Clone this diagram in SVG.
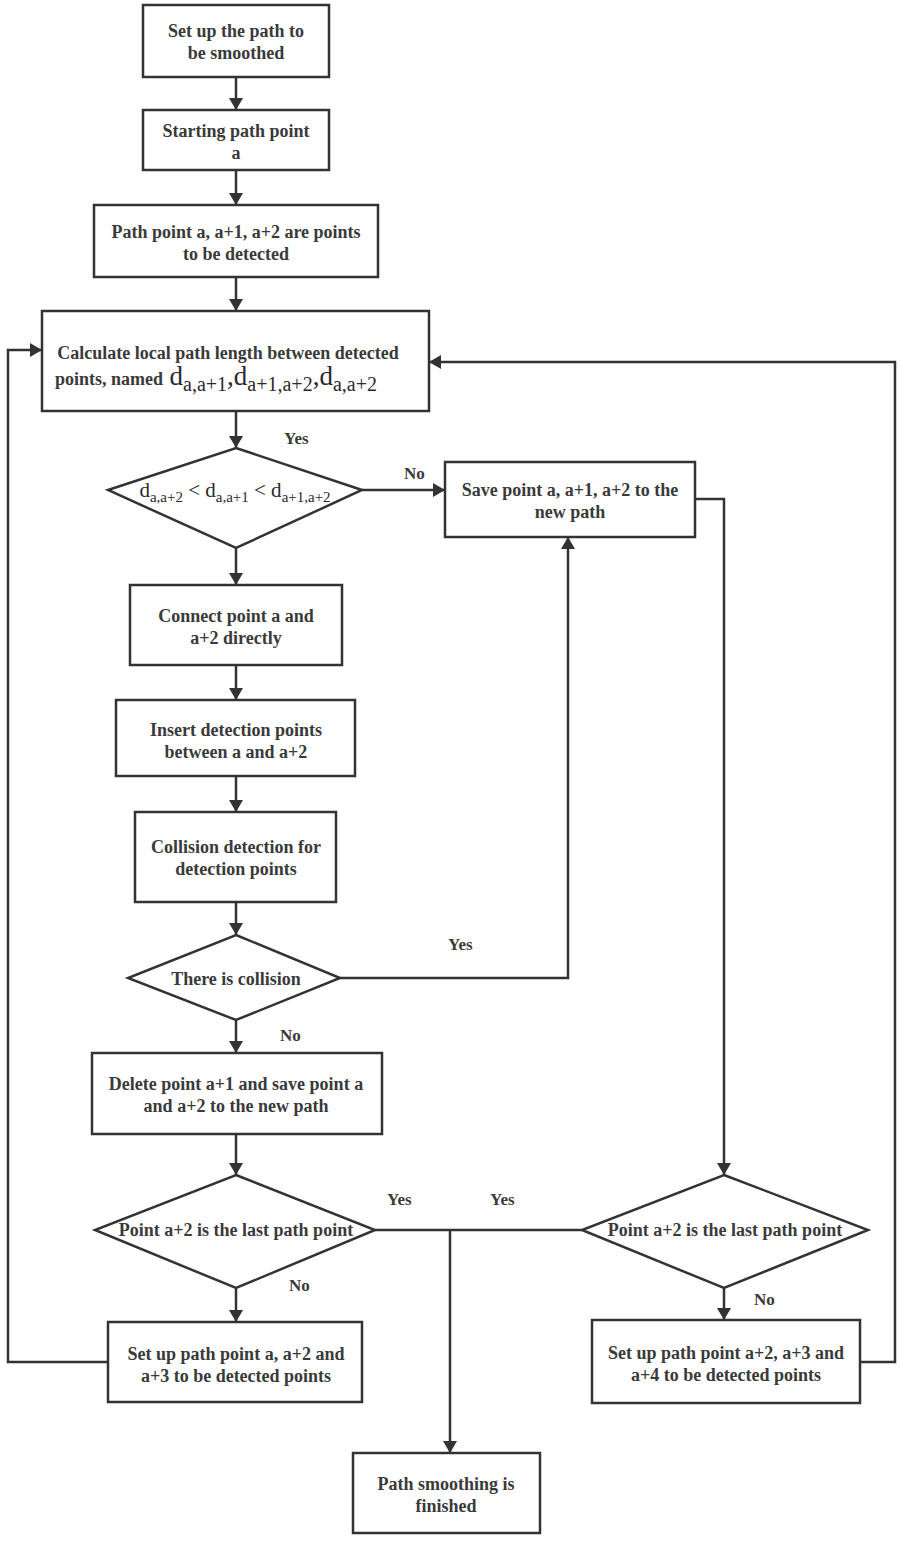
<svg xmlns="http://www.w3.org/2000/svg" width="900" height="1541" viewBox="0 0 900 1541">
<style>
.n rect, .n polygon { fill: #fff; stroke: #333; stroke-width: 2.5; }
.t { font-family: "Liberation Serif", "Times New Roman", serif; font-weight: bold; font-size: 18px; fill: #3a3a3a; text-anchor: middle; }
.m { font-family: "Liberation Serif", "Times New Roman", serif; font-weight: normal; fill: #2a2a2a; }
.c path { fill: none; stroke: #333; stroke-width: 2.5; }
.c path.a { marker-end: url(#ah); }
.lbl { font-family: "Liberation Serif", "Times New Roman", serif; font-weight: bold; font-size: 17px; fill: #3a3a3a; }
</style>
<defs>
<marker id="ah" viewBox="0 0 12 14" refX="12" refY="7" markerWidth="12" markerHeight="14" markerUnits="userSpaceOnUse" orient="auto">
<path d="M0,0 L12,7 L0,14 Z" fill="#333"/>
</marker>
</defs>
<rect width="900" height="1541" fill="#fff"/>

<g class="c" id="connectors">
<path class="a" d="M236,77 V110"/>
<path class="a" d="M236,170 V205"/>
<path class="a" d="M236,277 V311"/>
<path class="a" d="M236,411 V448"/>
<path class="a" d="M362,490 H445"/>
<path class="a" d="M236,548 V585"/>
<path class="a" d="M236,665 V700"/>
<path class="a" d="M236,776 V812"/>
<path class="a" d="M236,902 V935"/>
<path class="a" d="M340,978 H568 V537"/>
<path class="a" d="M236,1020 V1053"/>
<path class="a" d="M236,1134 V1175"/>
<path class="a" d="M695,499 H724 V1175"/>
<path d="M375,1230 H582"/>
<path class="a" d="M450,1230 V1453"/>
<path class="a" d="M236,1288 V1322"/>
<path class="a" d="M724,1288 V1320"/>
<path class="a" d="M108,1362 H8 V350 H42"/>
<path class="a" d="M860,1362 H895 V362 H429"/>
<text class="lbl" x="284" y="444">Yes</text>
<text class="lbl" x="404" y="479">No</text>
<text class="lbl" x="448" y="950">Yes</text>
<text class="lbl" x="280" y="1041">No</text>
<text class="lbl" x="387" y="1205">Yes</text>
<text class="lbl" x="490" y="1205">Yes</text>
<text class="lbl" x="289" y="1291">No</text>
<text class="lbl" x="754" y="1305">No</text>
</g>

<g class="n" id="n1"><rect x="143" y="5" width="186" height="72"/>
<text class="t" x="236" y="37">Set up the path to</text><text class="t" x="236" y="59">be smoothed</text></g>

<g class="n" id="n2"><rect x="143" y="110" width="186" height="60"/>
<text class="t" x="236" y="137">Starting path point</text><text class="t" x="236" y="159">a</text></g>

<g class="n" id="n3"><rect x="94" y="205" width="284" height="72"/>
<text class="t" x="236" y="238">Path point a, a+1, a+2 are points</text><text class="t" x="236" y="260">to be detected</text></g>

<g class="n" id="n4"><rect x="42" y="311" width="387" height="100"/>
<text class="t" x="228" y="359">Calculate local path length between detected</text>
<text class="t" x="55" y="385" style="text-anchor:start">points, named <tspan class="m" font-size="27" dx="2">d</tspan><tspan class="m" font-size="20" dy="6">a,a+1</tspan><tspan class="m" font-size="27" dy="-6">,d</tspan><tspan class="m" font-size="20" dy="6">a+1,a+2</tspan><tspan class="m" font-size="27" dy="-6">,d</tspan><tspan class="m" font-size="20" dy="6">a,a+2</tspan></text></g>

<g class="n" id="d1"><polygon points="236,448 362,490 236,548 108,490"/>
<text class="m" x="235" y="497" text-anchor="middle" font-size="21">d<tspan font-size="15" dy="5">a,a+2</tspan><tspan dy="-5"> &lt; d</tspan><tspan font-size="15" dy="5">a,a+1</tspan><tspan dy="-5"> &lt; d</tspan><tspan font-size="15" dy="5">a+1,a+2</tspan></text></g>

<g class="n" id="n5"><rect x="445" y="462" width="250" height="75"/>
<text class="t" x="570" y="496">Save point a, a+1, a+2 to the</text><text class="t" x="570" y="518">new path</text></g>

<g class="n" id="n6"><rect x="130" y="585" width="212" height="80"/>
<text class="t" x="236" y="622">Connect point a and</text><text class="t" x="236" y="644">a+2 directly</text></g>

<g class="n" id="n7"><rect x="116" y="700" width="239" height="76"/>
<text class="t" x="236" y="736">Insert detection points</text><text class="t" x="236" y="758">between a and a+2</text></g>

<g class="n" id="n8"><rect x="135" y="812" width="201" height="90"/>
<text class="t" x="236" y="853">Collision detection for</text><text class="t" x="236" y="875">detection points</text></g>

<g class="n" id="d2"><polygon points="236,935 340,978 236,1020 128,978"/>
<text class="t" x="236" y="985">There is collision</text></g>

<g class="n" id="n9"><rect x="92" y="1053" width="290" height="81"/>
<text class="t" x="236" y="1090">Delete point a+1 and save point a</text><text class="t" x="236" y="1112">and a+2 to the new path</text></g>

<g class="n" id="d3"><polygon points="236,1175 375,1230 236,1288 95,1230"/>
<text class="t" x="236" y="1236">Point a+2 is the last path point</text></g>

<g class="n" id="d4"><polygon points="724,1175 868,1230 724,1288 582,1230"/>
<text class="t" x="725" y="1236">Point a+2 is the last path point</text></g>

<g class="n" id="n10"><rect x="108" y="1322" width="254" height="80"/>
<text class="t" x="236" y="1360">Set up path point a, a+2 and</text><text class="t" x="236" y="1382">a+3 to be detected points</text></g>

<g class="n" id="n11"><rect x="592" y="1320" width="268" height="83"/>
<text class="t" x="726" y="1359">Set up path point a+2, a+3 and</text><text class="t" x="726" y="1381">a+4 to be detected points</text></g>

<g class="n" id="n12"><rect x="353" y="1453" width="187" height="80"/>
<text class="t" x="446" y="1490">Path smoothing is</text><text class="t" x="446" y="1512">finished</text></g>
</svg>
